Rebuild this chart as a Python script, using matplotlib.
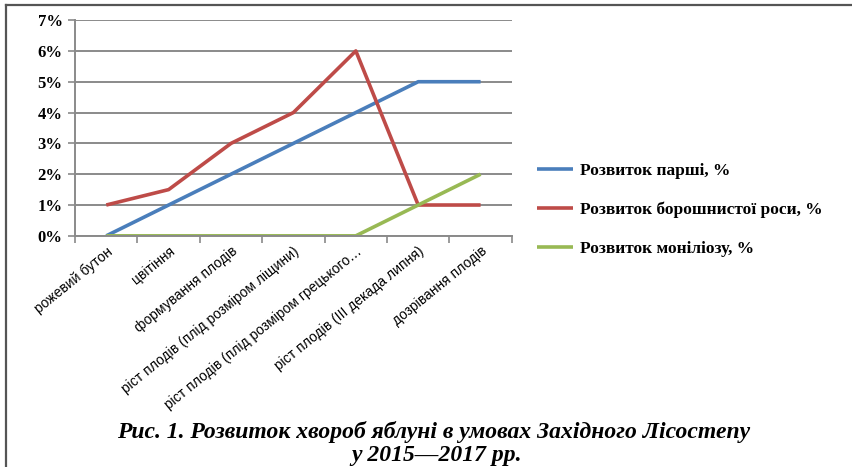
import matplotlib.pyplot as plt
from matplotlib.lines import Line2D
from matplotlib.ticker import FuncFormatter, MultipleLocator

# фази розвитку яблуні
stages = ['рожевий бутон', 'цвітіння', 'формування плодів',
          'ріст плодів (плід розміром ліщини)',
          'ріст плодів (плід розміром грецького…',
          'ріст плодів (ІІІ декада липня)', 'дозрівання плодів']

scab = [0, 1, 2, 3, 4, 5, 5]               # парша
mildew = [1, 1.5, 3, 4, 6, 1, 1]           # борошниста роса
monilia = [0, 0, 0, 0, 0, 1, 2]            # моніліоз

labels = ['Розвиток парші, %', 'Розвиток борошнистої роси, %', 'Розвиток моніліозу, %']
colors = ['#4A7EBB', '#BE4B48', '#98B954']

fig = plt.figure(figsize=(8.53, 4.67), dpi=100)
ax = fig.add_axes([0.088, 0.495, 0.512, 0.462])

x = list(range(len(stages)))
for ys, lab, c in zip([scab, mildew, monilia], labels, colors):
    ax.plot(x, ys, color=c, lw=2.6, label=lab, solid_capstyle='butt')

ax.set_xlim(-0.5, len(stages) - 0.5)
ax.set_ylim(0, 7)
ax.yaxis.set_major_locator(MultipleLocator(1))
ax.yaxis.set_major_formatter(FuncFormatter(lambda v, p: '%d%%' % v))
ax.grid(axis='y', color='#8a8a8a', lw=1.4)
ax.set_axisbelow(True)

for s in ['top', 'right']:
    ax.spines[s].set_visible(False)
ax.spines['left'].set_color('#8a8a8a')
ax.spines['left'].set_linewidth(1.4)
ax.spines['bottom'].set_color('#8a8a8a')
ax.spines['bottom'].set_linewidth(1.4)

ax.tick_params(axis='y', length=5, width=1.2, color='#8a8a8a', pad=4)
for t in ax.get_yticklabels():
    t.set_fontfamily('Liberation Serif')
    t.set_fontweight('bold')
    t.set_fontsize(12)

ax.set_xticks(x)
ax.set_xticks([i - 0.5 for i in range(len(stages) + 1)], minor=True)
ax.tick_params(axis='x', which='major', length=0, pad=6)
ax.tick_params(axis='x', which='minor', length=5, width=1.2, color='#8a8a8a')
ax.set_xticklabels(stages, rotation=39, ha='right', rotation_mode='anchor',
                   fontfamily='Liberation Sans', fontsize=10)

leg = fig.legend(loc='center left', bbox_to_anchor=(0.611, 0.55), frameon=False,
                 handlelength=2.1, handletextpad=0.4, labelspacing=1.32,
                 prop={'family': 'Liberation Serif', 'weight': 'bold', 'size': 12.5})

fig.text(0.508, 0.076, 'Рис. 1. Розвиток хвороб яблуні в умовах Західного Лісостепу',
         ha='center', va='center', fontfamily='Liberation Serif',
         fontweight='bold', fontstyle='italic', fontsize=17)
fig.text(0.512, 0.024, 'у 2015—2017 рр.',
         ha='center', va='center', fontfamily='Liberation Serif',
         fontweight='bold', fontstyle='italic', fontsize=17)

# рамка рисунка
fig.add_artist(Line2D([0.0065, 0.0065], [0, 0.989], color='#555555', lw=1.6))
fig.add_artist(Line2D([0.0065, 1.0], [0.989, 0.989], color='#555555', lw=1.6))

fig.savefig('out.png', dpi=100)
